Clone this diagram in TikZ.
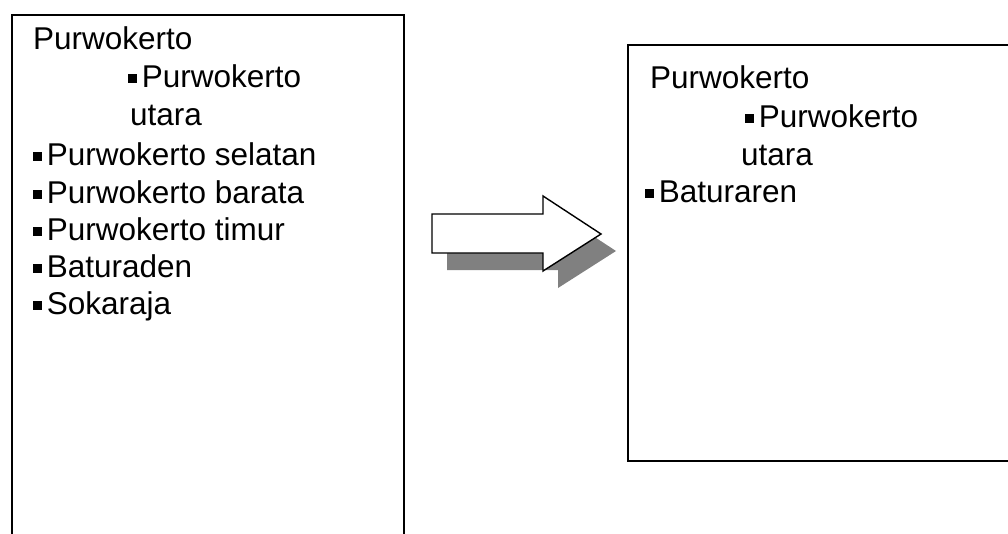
\documentclass[tikz,border=0pt]{standalone}
\usepackage{fontspec}
\setmainfont{Liberation Sans}
\begin{document}
\begin{tikzpicture}[x=1pt,y=-1pt,
  panel/.style={draw=black,line width=1.6pt,fill=white},
  item/.style={anchor=base west,inner sep=0pt,outer sep=0pt,
    font=\fontsize{31.5}{38}\selectfont},
  arrowbody/.style={draw=black,line width=1.4pt,fill=white,line join=miter},
  arrowshade/.style={fill=black!50,draw=none}]
\newcommand{\sqbullet}{\rule[0.12em]{0.29em}{0.29em}\hspace{0.15em}}
\useasboundingbox (0,0) rectangle (1008,533);
\clip (0,0) rectangle (1008,533);

% two panels
\draw[panel] (12,15) rectangle (404,560);
\draw[panel] (628,45) rectangle (1030,461);

% left panel list
\node[item] (l1) at (33,49)  {Purwokerto};
\node[item] (l2) at (128,87)  {\sqbullet Purwokerto};
\node[item] (l3) at (130,125) {utara};
\node[item] (l4) at (33,165) {\sqbullet Purwokerto selatan};
\node[item] (l5) at (33,203) {\sqbullet Purwokerto barata};
\node[item] (l6) at (33,240) {\sqbullet Purwokerto timur};
\node[item] (l7) at (33,277) {\sqbullet Baturaden};
\node[item] (l8) at (33,314) {\sqbullet Sokaraja};

% right panel list
\node[item] (r1) at (650,88)  {Purwokerto};
\node[item] (r2) at (745,127) {\sqbullet Purwokerto};
\node[item] (r3) at (741,165) {utara};
\node[item] (r4) at (645,202) {\sqbullet Baturaren};

% block arrow with drop shadow
\begin{scope}[shift={(15,17)}]
  \fill[arrowshade] (432,214) -- (543,214) -- (543,196) -- (601,234)
    -- (543,271) -- (543,253) -- (432,253) -- cycle;
\end{scope}
\draw[arrowbody] (432,214) -- (543,214) -- (543,196) -- (601,234)
  -- (543,271) -- (543,253) -- (432,253) -- cycle;
\end{tikzpicture}
\end{document}
